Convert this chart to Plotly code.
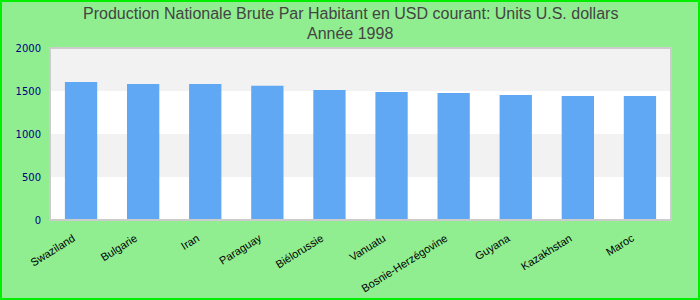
import plotly.graph_objects as go

countries = ["Swaziland", "Bulgarie", "Iran", "Paraguay", "Biélorussie", "Vanuatu",
             "Bosnie-Herzégovine", "Guyana", "Kazakhstan", "Maroc"]
values = [1605, 1582, 1582, 1560, 1512, 1488, 1477, 1453, 1442, 1442]
y_ticks = [0, 500, 1000, 1500, 2000]
title_line1 = "Production Nationale Brute Par Habitant en USD courant: Units U.S. dollars"
title_line2 = "Année 1998"

W, H = 700, 300
ml, mr, mt, mb = 50, 29, 48, 80
pw, ph = W - ml - mr, H - mt - mb

def py(pix):
    return (H - mb - pix) / ph

fig = go.Figure(go.Bar(x=countries, y=values, marker_color="#60a8f4",
                       marker_line_width=0))

shapes = []
band_colors = ["#ffffff", "#f2f2f2", "#ffffff", "#f2f2f2"]
for i in range(4):
    shapes.append(dict(type="rect", xref="paper", yref="y", x0=0, x1=1,
                       y0=y_ticks[i], y1=y_ticks[i + 1], fillcolor=band_colors[i],
                       line_width=0, layer="below"))
shapes.append(dict(type="rect", xref="paper", yref="paper", x0=0, x1=1, y0=0, y1=1,
                   line=dict(color="#cccccc", width=2), layer="above"))
shapes.append(dict(type="rect", xref="paper", yref="paper",
                   x0=-ml / pw + 1 / pw, x1=1 + mr / pw - 1 / pw,
                   y0=-mb / ph + 1 / ph, y1=1 + mt / ph - 1 / ph,
                   line=dict(color="#00ee00", width=2)))

title_font = dict(family="Liberation Sans Narrow, Arial Narrow, Arial", size=16, color="#444444")
annotations = [
    dict(text=title_line1, xref="paper", yref="paper", x=0.5 - (ml - mr) / 2 / pw, y=py(13),
         xanchor="center", yanchor="middle", showarrow=False, font=title_font),
    dict(text=title_line2, xref="paper", yref="paper", x=0.5 - (ml - mr) / 2 / pw, y=py(33),
         xanchor="center", yanchor="middle", showarrow=False, font=title_font),
]

fig.update_layout(
    width=W, height=H,
    margin=dict(l=ml, r=mr, t=mt, b=mb),
    paper_bgcolor="#90ee90", plot_bgcolor="#ffffff",
    bargap=0.48,
    shapes=shapes,
    annotations=annotations,
    showlegend=False,
    xaxis=dict(tickangle=-32, tickfont=dict(family="Liberation Sans, Arial", size=11, color="#000000"),
               showgrid=False, ticks="", showline=False, ticklabelstandoff=9, ticklabelshift=-8,
               automargin=False),
    yaxis=dict(range=[0, 2000], tickvals=y_ticks, showgrid=False, zeroline=False,
               tickfont=dict(family="DejaVu Sans", size=10, color="#000080"), ticks="",
               ticklabelstandoff=8, automargin=False),
)

fig.write_html("out.html")
